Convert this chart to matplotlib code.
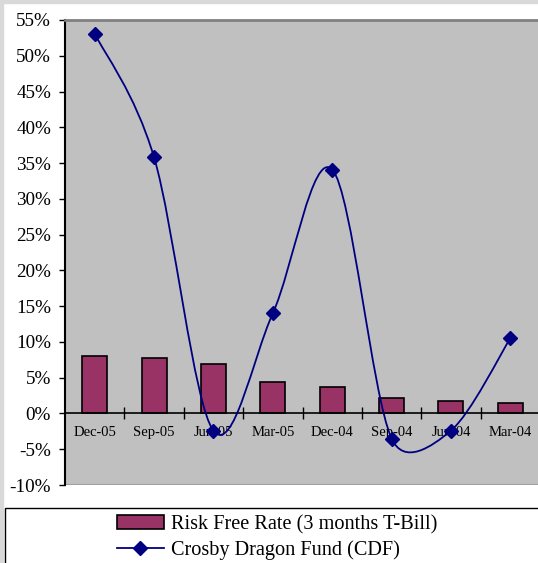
import matplotlib
matplotlib.use("Agg")
import matplotlib.pyplot as plt
import numpy as np
from matplotlib.path import Path
from matplotlib.patches import PathPatch, Rectangle
from matplotlib.lines import Line2D
from matplotlib.ticker import FuncFormatter

categories = ["Dec-05", "Sep-05", "Jun-05", "Mar-05", "Dec-04", "Sep-04", "Jun-04", "Mar-04"]
risk_free = [8.1, 7.8, 6.9, 4.4, 3.7, 2.2, 1.8, 1.5]
cdf = [53.1, 35.8, -2.4, 14.0, 34.1, -3.5, -2.4, 10.5]
yticks = list(range(-10, 60, 5))

BAR = "#993366"
LINE = "#000080"
BG = "#C0C0C0"
FONT = "Liberation Serif"

fig = plt.figure(figsize=(5.38, 5.63), dpi=100)
fig.patch.set_facecolor("white")
fig.add_artist(Rectangle((0, 1 - 3 / 563), 1, 3 / 563, transform=fig.transFigure, color="#D9D9D9", zorder=0))
fig.add_artist(Rectangle((0, 0), 3 / 538, 1, transform=fig.transFigure, color="#D9D9D9", zorder=0))

ax = fig.add_axes([65 / 538, 1 - 485 / 563, 475 / 538, 465 / 563])
ax.set_facecolor(BG)
x = np.arange(len(categories))
ax.bar(x, risk_free, width=0.42, color=BAR, edgecolor="black", linewidth=1.2, zorder=2)

ax.set_xlim(-0.5, 7.5)
ax.set_ylim(-10, 55)

# Excel-style smoothed line: Bezier with 1/6 tangents, arm length limited to half the segment
sx = 475.0 / 8.0
sy = 465.0 / 65.0
P = np.column_stack([x * sx, np.array(cdf) * sy]).astype(float)
n = len(P)
verts = [P[0]]
codes = [Path.MOVETO]
for i in range(n - 1):
    p0 = P[i - 1] if i > 0 else P[i]
    p1 = P[i]
    p2 = P[i + 1]
    p3 = P[i + 2] if i + 2 < n else P[i + 1]
    d12 = np.linalg.norm(p2 - p1)
    d02 = np.linalg.norm(p2 - p0)
    d13 = np.linalg.norm(p3 - p1)
    f0 = 1 / 6 if d02 / 6 < d12 / 2 else d12 / d02 / 2
    f1 = 1 / 6 if d13 / 6 < d12 / 2 else d12 / d13 / 2
    c1 = p1 + (p2 - p0) * f0
    c2 = p2 - (p3 - p1) * f1
    verts += [c1, c2, p2]
    codes += [Path.CURVE4] * 3
verts = np.array(verts) / np.array([sx, sy])
ax.add_patch(PathPatch(Path(verts, codes), facecolor="none", edgecolor=LINE, linewidth=1.3, zorder=3))
ax.plot(x, cdf, linestyle="none", marker="D", markersize=7, color=LINE, zorder=4)

ax.set_yticks(yticks)
ax.yaxis.set_major_formatter(FuncFormatter(lambda v, p: f"{int(v)}%"))
ax.tick_params(axis="y", direction="out", length=4, width=1, pad=6, labelsize=13.8)
for lab in ax.get_yticklabels():
    lab.set_fontfamily(FONT)

ax.spines["bottom"].set_position(("data", 0))
ax.spines["bottom"].set_linewidth(1.2)
ax.spines["left"].set_linewidth(1.5)
ax.spines["top"].set_color("#808080")
ax.spines["top"].set_linewidth(2)
ax.spines["right"].set_visible(False)
ax.axhline(-10, color="#A0A0A0", linewidth=1.5, zorder=1)

ax.set_xticks(np.arange(0.5, 7.5, 1.0))
ax.set_xticklabels([])
ax.set_xticks(x, minor=True)
ax.set_xticklabels(categories, minor=True, fontfamily=FONT, fontsize=10.5)
ax.tick_params(axis="x", which="major", direction="inout", length=8, width=1)
ax.tick_params(axis="x", which="minor", length=0, pad=9)
for lab in ax.get_xticklabels(minor=True):
    lab.set_zorder(5)

# legend frame
fig.add_artist(Rectangle((5 / 538, -0.05), 1.0, 1 - 508 / 563 + 0.05, transform=fig.transFigure,
                         facecolor="white", edgecolor="black", linewidth=1, zorder=1))
handles = [Rectangle((0, 0), 1, 1, facecolor=BAR, edgecolor="black", linewidth=1.2),
           Line2D([0], [0], color=LINE, linewidth=1.3, marker="D", markersize=7)]
labels = ["Risk Free Rate (3 months T-Bill)", "Crosby Dragon Fund (CDF)"]
leg = fig.legend(handles, labels, loc="upper center", bbox_to_anchor=(277 / 538, 1 - 501 / 563),
                 frameon=False, prop={"family": FONT, "size": 14.6}, handlelength=2.3,
                 handletextpad=0.35, labelspacing=0.3, borderpad=0.2)
leg.set_zorder(2)

fig.savefig("out.png", dpi=100)
